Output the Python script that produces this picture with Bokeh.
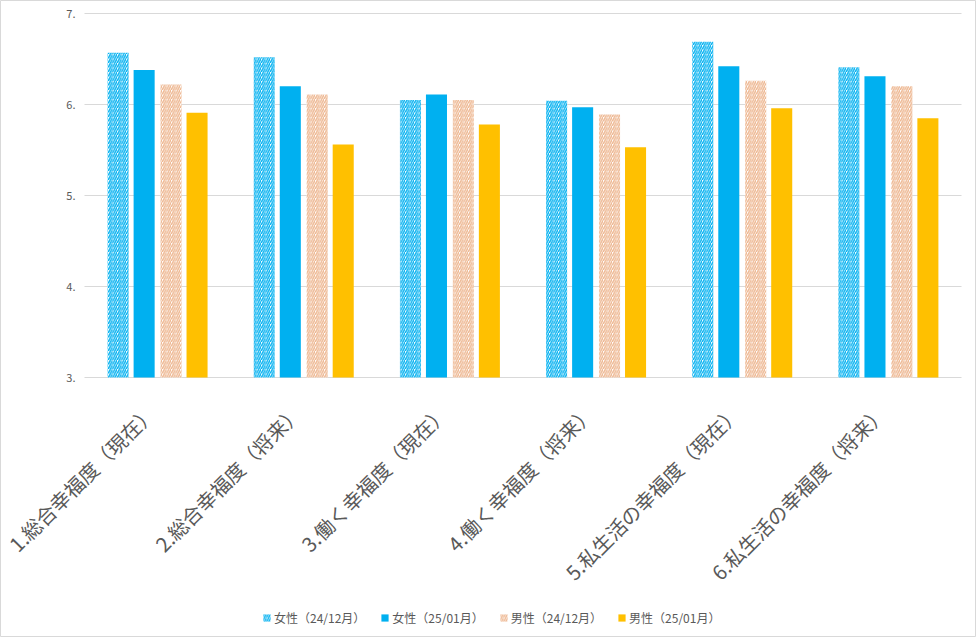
from bokeh.plotting import figure
from bokeh.models import ColumnDataSource, Range1d, Legend, LegendItem
from bokeh.core.properties import value
from bokeh.transform import dodge
from bokeh.embed import file_html
from bokeh.resources import INLINE
import math

categories = ["1.総合幸福度（現在）", "2.総合幸福度（将来）", "3.働く幸福度（現在）",
              "4.働く幸福度（将来）", "5.私生活の幸福度（現在）", "6.私生活の幸福度（将来）"]
series_names = ["女性（24/12月）", "女性（25/01月）", "男性（24/12月）", "男性（25/01月）"]
female_2412 = [6.57, 6.52, 6.05, 6.04, 6.69, 6.41]
female_2501 = [6.38, 6.20, 6.11, 5.97, 6.42, 6.31]
male_2412 = [6.22, 6.11, 6.05, 5.89, 6.26, 6.20]
male_2501 = [5.91, 5.56, 5.78, 5.53, 5.96, 5.85]
y_ticks = [3, 4, 5, 6, 7]
y_tick_labels = ["3.", "4.", "5.", "6.", "7."]

FONT = "Noto Sans CJK JP"
BLUE = "#00B0F0"
YELLOW = "#FFC000"
PEACH = "#EDB58E"
GRID = "#D9D9D9"
TEXT = "#595959"

W, H = 976, 637
TOP, PX_PER_UNIT = 13, 91.0          # y: px from figure top to value 7, px per value unit
PLOT_LEFT, CAT_PX = 84, 877 / 6.0    # x: left edge of category area, px per category
n = len(categories)
y_max = 7 + TOP / PX_PER_UNIT
y_min = 7 - (H - TOP) / PX_PER_UNIT
x_min = -PLOT_LEFT / CAT_PX
x_max = x_min + W / CAT_PX

pos = [i + 0.5 for i in range(n)]
source = ColumnDataSource(dict(x=pos, cat=categories, f1=female_2412, f2=female_2501,
                               m1=male_2412, m2=male_2501))

p = figure(x_range=Range1d(x_min, x_max), y_range=Range1d(y_min, y_max),
           width=W, height=H, output_backend="svg", toolbar_location=None,
           min_border_left=0, min_border_right=0, min_border_top=0, min_border_bottom=0)
p.axis.visible = False
p.grid.visible = False
p.outline_line_color = GRID
p.outline_line_width = 1

# horizontal gridlines across the category area
p.segment(x0=0, x1=n, y0=y_ticks, y1=y_ticks, line_color=GRID, line_width=1)
# y tick labels
p.text(x=-9 / CAT_PX, y=y_ticks, text=y_tick_labels, text_align="right", text_baseline="middle",
       text_font=value(FONT), text_font_size="11px", text_color=TEXT)

bw = 0.144
hatch_kw = dict(hatch_pattern="/", hatch_scale=4.5, hatch_weight=1.4)
r1 = p.vbar(x=dodge("x", -0.27), top="f1", bottom=3, width=bw, source=source,
            fill_color="white", line_color=None, hatch_color=BLUE, **hatch_kw)
r2 = p.vbar(x=dodge("x", -0.092), top="f2", bottom=3, width=bw, source=source,
            fill_color=BLUE, line_color=None)
r3 = p.vbar(x=dodge("x", 0.092), top="m1", bottom=3, width=bw, source=source,
            fill_color="white", line_color=None, hatch_color=PEACH, **hatch_kw)
r4 = p.vbar(x=dodge("x", 0.27), top="m2", bottom=3, width=bw, source=source,
            fill_color=YELLOW, line_color=None)

# rotated category labels, anchored at their right end under each group
label_y = 3 - 31 / PX_PER_UNIT
p.text(x=dodge("x", -6 / CAT_PX), y=label_y, text="cat", source=source,
       angle=math.pi / 4, text_align="right", text_baseline="middle",
       text_font=value(FONT), text_font_size="20px", text_color=TEXT)

legend = Legend(items=[LegendItem(label=s, renderers=[r]) for s, r in
                       zip(series_names, [r1, r2, r3, r4])],
                orientation="horizontal", location=(262, 11),
                label_text_font=FONT, label_text_font_size="12px", label_text_color=TEXT,
                glyph_width=9, glyph_height=9, label_height=12, label_standoff=3, spacing=15,
                border_line_color=None, background_fill_alpha=0, padding=0, margin=0)
p.add_layout(legend, "center")

open("out.html", "w").write(file_html(p, INLINE))
